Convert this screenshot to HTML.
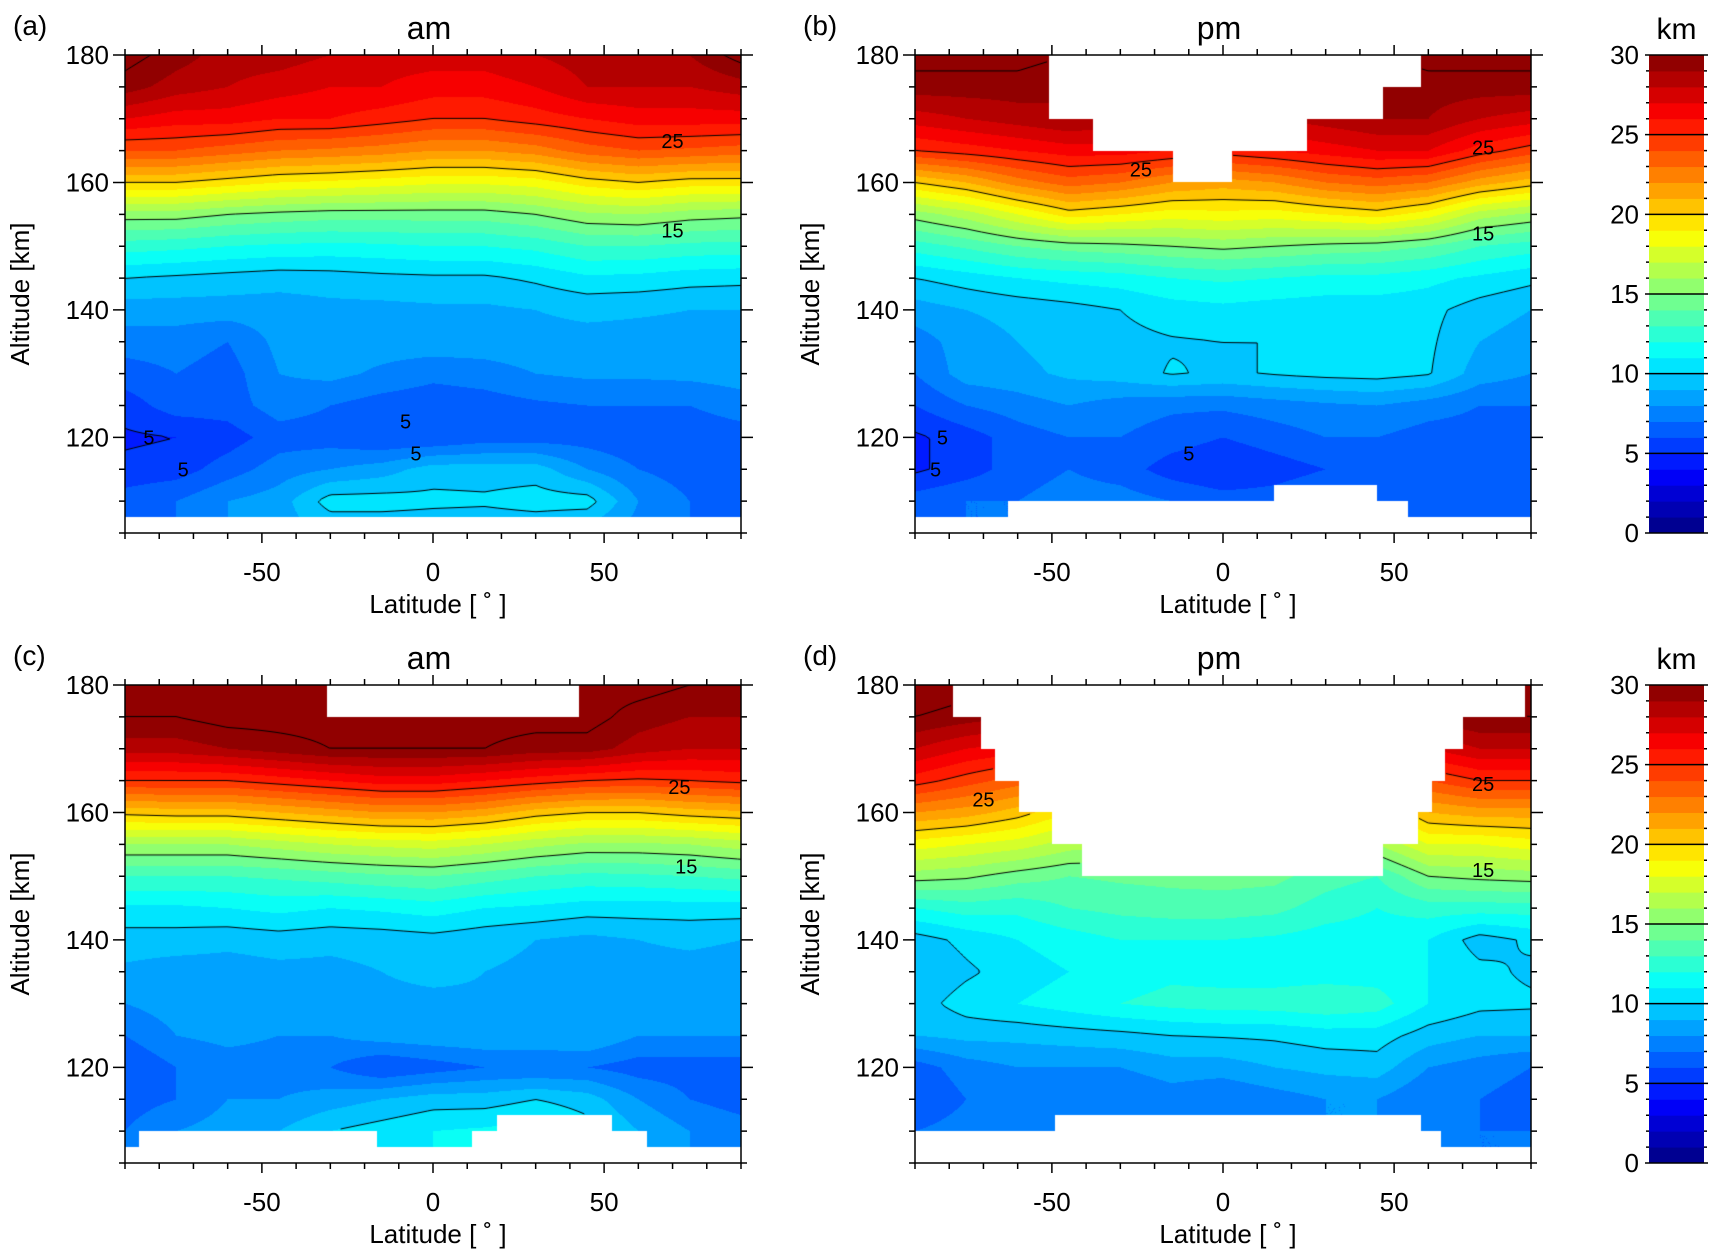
<!DOCTYPE html>
<html><head><meta charset="utf-8">
<style>
body{margin:0;background:#fff;width:1714px;height:1259px;position:relative;overflow:hidden;font-family:"Liberation Sans",Arial,sans-serif;}
canvas{position:absolute;}
svg{position:absolute;left:0;top:0;}
</style></head>
<body>
<canvas id="ca" width="616" height="478" style="left:125px;top:55px"></canvas>
<canvas id="cb" width="616" height="478" style="left:915px;top:55px"></canvas>
<canvas id="cc" width="616" height="478" style="left:125px;top:685px"></canvas>
<canvas id="cd" width="616" height="478" style="left:915px;top:685px"></canvas>
<svg id="ov" width="1714" height="1259"></svg>
<script>
const lats=[-90,-75,-60,-45,-30,-15,0,15,30,45,60,75,90];
const alts=[180,175,170,165,160,155,150,145,140,135,130,125,120,115,110,105];
const fieldA=[
[30.5,29.5,28.5,28.5,28,27.5,27.5,27.5,28,28.5,29,29,30.5],
[29.5,28.5,28,27.5,27,27,26.5,26.5,27,28,28,28,28.5],
[27,26.5,26.5,26,26,25.5,25,25,25.5,26,26.5,26.5,26.5],
[24,24,23.5,23,22.8,22.5,22,22,22.5,23.5,24,23.8,23.5],
[20,20,19.5,19,18.8,18.5,18.2,18.2,18.5,19.5,20,19.5,19.5],
[15.5,15.5,15,14.7,14.5,14.5,14.5,14.5,15,15.8,16,15.5,15.3],
[12.5,12.3,12,11.8,11.7,11.8,12,12,12.3,13,13,12.7,12.6],
[10,9.8,9.6,9.4,9.5,9.7,9.8,9.8,10.2,10.8,10.7,10.4,10.3],
[8.5,8.5,8.5,8.5,8.7,8.7,8.8,8.8,9,9.2,9.1,9.0,9.0],
[7.5,7.5,7.0,8.3,8.5,8.5,8.6,8.6,8.7,8.7,8.7,8.7,8.7],
[6.5,7,6.5,8,8.3,7.8,7.3,7.5,8,8.2,8.2,8.3,8.5],
[5.5,6.5,6.5,7.5,7,6.5,6.3,6.5,6.8,7,7,7,7.5],
[4.8,5,5.5,6.5,6.5,6,6,6.5,6.5,6.5,6.2,6.3,6.5],
[5.3,5.5,6.5,7.5,8,8.5,9.5,9.5,9.5,8,7,6.5,6.5],
[6.5,7,8,8.5,10.5,10.5,10.3,10.2,10.5,10.5,8,7,6.5],
[6.5,7,8,8.5,9,9,9,9,9,8.5,7.5,7,6.5]];
const fieldB=[
[30.5,30.5,30.5,30,29,29,29,29,29,30,30.5,30.5,30.5],
[29.5,29.5,29.5,29,28.5,28.5,28.5,28.5,28.5,29,29.5,29.5,29.5],
[27.5,28,28.5,29,28.5,28,28,28,28.5,29,29,28,27.5],
[25,25.5,26,26.5,26.5,26,25.5,26,26.5,27,27,25.5,24.5],
[20,21,22.5,23.5,23,22,21.5,22,23,23.5,23,21.5,20.5],
[15.5,16.5,18,19.5,19,18.5,18.7,18.5,19,19.5,18.5,16.5,15.8],
[12.5,13.2,14,14.5,14.7,15,15.3,15,14.7,14.5,14,13,12.5],
[10,10.5,11,11.3,11.5,12,12.2,12,11.7,11.7,11.3,10.8,10.3],
[8.5,9,9.3,9.6,10,10.5,10.7,10.5,10.4,10.4,10.3,9.5,9],
[7.5,8.5,9,9.5,9.7,9.9,10,10,10.2,10.3,10.2,9,8.5],
[7,8.5,8.7,9.2,9.5,10.1,9.8,10.1,10.3,10.4,10.1,8.5,8],
[6,7,7.5,8,7.5,7.2,7.2,7.5,7.8,8,7.5,7,7],
[4.8,5.5,6.5,7,7,6.5,6,6.5,7,7,6.5,6.5,6.5],
[4.8,5.5,6.5,7,6.5,5.5,5,5.5,6,6.5,6.5,6.5,6.5],
[6.5,7,7,7.5,7.5,7,6.5,6.5,7,7,6.5,6.5,6.5],
[7,7,7,7.5,7.5,7,7,7,7,7,7,7,7]];
const fieldC=[
[31,31,31,30.5,30.5,30.5,30.5,30.5,30.5,30.5,30.5,30,30],
[30,30,30.5,30.5,30.5,30.5,30.5,30.5,30.5,30.5,29.5,29,29],
[28.5,28.5,29,29.5,30,30,30,30,29.5,29.5,28.5,28,28],
[25,25,25,25.5,26,26.5,26.5,26,25.5,25,24.8,25,25.3],
[20.3,20.5,20.5,21,21.5,22,22,21.5,20.5,20,20,20.5,20.8],
[16,16,16,16.5,17,17.3,17.5,17,16.3,15.8,15.8,16,16.5],
[13,13,13,13.2,13.5,13.8,14,13.5,13,12.7,12.8,13,13.3],
[10.8,10.8,11,11.3,11,11.2,11.5,11,10.8,10.5,10.5,10.5,10.5],
[9.5,9.5,9.3,9.5,9.3,9.4,9.6,9.3,9,8.7,9,9.2,9],
[8.8,8.5,8.5,8.7,8.7,9,9.2,9,8.8,8.6,8.6,8.6,8.5],
[8,8.5,8.7,8.7,8.7,8.8,8.8,8.9,8.9,8.8,8.7,8.7,9],
[7,8,8.3,8,8,8.5,8.7,8.8,8.8,9,8,8,8],
[6,7,7.5,7.5,7,6,6.5,7,7,7,6.5,6.5,6.5],
[6.5,7,8,8,8.5,9,9.5,9.5,10,9.5,8,7,6.5],
[7,8,8.5,9,10,10.5,11,11.2,11.5,10.5,9,8,7.5],
[7.5,8,8.5,9,10,10.5,11,11,11,10,9,8,7.5]];
const fieldD=[
[31,30.5,30.5,30,29,28,27.5,28,29,30,30.5,30.5,31],
[30,29.5,29,28,26.5,25.5,25,25.5,26.5,28,29.5,30,30],
[28,27,26.5,25,23.5,22.5,22,22.5,23.5,25,27,28,28],
[25.5,24.5,23.5,22,20.5,19.5,19,19.5,20.5,22,24,25,25],
[22,21.5,20.5,19,17.5,17,16.8,17,17.5,18.5,21,21.5,21.5],
[18.5,18,17.5,16.5,16,15.8,15.8,15.8,15.5,16,18,18,18.5],
[15.5,15.2,14.5,14,14.2,14.3,14.4,14.3,13.5,13,15,15.3,15.5],
[12,12.5,12.3,13,13.3,13.5,13.5,13.3,12.5,12,12.5,12.5,12.5],
[9.5,10.3,11,11.5,12,12,12,11.8,11.5,11.5,11,9.5,10.2],
[9,9.8,10.5,11,11.5,11.8,11.5,11.5,11.5,11.5,11,10.3,9.8],
[9.5,10.5,11,11.5,12,12.3,12.5,12.5,12.8,12.5,11,10.3,10.2],
[9,9.3,9.3,9.5,9.7,10,10.1,10.2,10.5,10.5,9.5,9,9],
[6.5,7.5,8,8,8,8.5,8.5,9,9.3,9.5,8,7.5,7],
[6,7,7.5,7.5,7,7.5,7,7.5,8,8,7,7,6.5],
[7,7.5,8,8,8,8,7.5,8,8,8,7.5,7,7],
[7,7.5,8,8,8,8,7.5,8,8,8,7.5,7,7]];
const topStartA=[-90], topAltA=[180], botStartA=[-90], botAltA=[107.5];
const topStartB=[-90,-50.7,-38,-14.6,2.7,24.4,46.7,57.9], topAltB=[180,170,165,160,165,170,175,180];
const botStartB=[-90,-62.8,14.8,45,54], botAltB=[107.5,110,112.5,110,107.5];
const topStartC=[-90,-30.9,42.6], topAltC=[180,175,180];
const botStartC=[-90,-86,-16.5,11.3,18.6,52.2,62.4], botAltC=[107.5,110,107.5,110,112.5,110,107.5];
const topStartD=[-90,-78.8,-70.8,-66.7,-59.6,-50.1,-41.1,46.7,57,61.1,65,70.1,88.3], topAltD=[180,175,170,165,160,155,150,155,160,165,170,175,180];
const botStartD=[-90,-49.1,57.9,63.7], botAltD=[110,112.5,110,107.5];
const contourLevels=[5,10,15,20,25,30];
const cbTicks=[0,5,10,15,20,25,30];
const xTicks=[-50,0,50];
const yTicks=[120,140,160,180];
const labelsA=[["25",70,166.5],["15",70,152.5],["5",-83,120],["5",-73,115],["5",-8,122.5],["5",-5,117.5]];
const labelsB=[["25",-24,162],["25",76,165.5],["15",76,152],["5",-82,120],["5",-84,115],["5",-10,117.5]];
const labelsC=[["25",72,164],["15",74,151.5]];
const labelsD=[["25",-70,162],["25",76,164.5],["15",76,151]];

const W=616,H=478,LAT0=-90,LAT1=90,ALT0=105,ALT1=180;
function jet(k){const t=(k+0.5)/30;const c=v=>Math.round(255*Math.max(0,Math.min(1,v)));
 return [c(1.5-Math.abs(4*t-3)),c(1.5-Math.abs(4*t-2)),c(1.5-Math.abs(4*t-1))];}
function seg(st,al,lat){let a=al[0];for(let i=0;i<st.length;i++)if(lat>=st[i])a=al[i];return a;}
function val(F,lat,alt){
 let fi=(lat-lats[0])/15; fi=Math.max(0,Math.min(lats.length-1.0001,fi));
 let fj=(alts[0]-alt)/5; fj=Math.max(0,Math.min(alts.length-1.0001,fj));
 const i=Math.floor(fi),j=Math.floor(fj),u=fi-i,v=fj-j;
 return F[j][i]*(1-u)*(1-v)+F[j][i+1]*u*(1-v)+F[j+1][i]*(1-u)*v+F[j+1][i+1]*u*v;}
const xs=lat=>(lat-LAT0)/(LAT1-LAT0)*W, ys=alt=>(ALT1-alt)/(ALT1-ALT0)*H;
const panels=[
 {c:'ca',x:125,y:55,F:fieldA,ts:topStartA,ta:topAltA,bs:botStartA,ba:botAltA,t:'am',tag:'(a)',L:labelsA,n:'a'},
 {c:'cb',x:915,y:55,F:fieldB,ts:topStartB,ta:topAltB,bs:botStartB,ba:botAltB,t:'pm',tag:'(b)',L:labelsB,n:'b'},
 {c:'cc',x:125,y:685,F:fieldC,ts:topStartC,ta:topAltC,bs:botStartC,ba:botAltC,t:'am',tag:'(c)',L:labelsC,n:'c'},
 {c:'cd',x:915,y:685,F:fieldD,ts:topStartD,ta:topAltD,bs:botStartD,ba:botAltD,t:'pm',tag:'(d)',L:labelsD,n:'d'}];
const pal=[];for(let k=0;k<30;k++)pal.push(jet(k));
function field(p,lat,alt){if(alt>seg(p.ts,p.ta,lat)||alt<seg(p.bs,p.ba,lat))return NaN;return val(p.F,lat,alt);}
panels.forEach(p=>{
 const cv=document.getElementById(p.c),ctx=cv.getContext('2d');
 const img=ctx.createImageData(W,H),d=img.data;
 for(let py=0;py<H;py++){const alt=ALT1-(py+0.5)/H*(ALT1-ALT0);
  for(let px=0;px<W;px++){const lat=LAT0+(px+0.5)/W*180;const v=field(p,lat,alt);const o=(py*W+px)*4;
   if(isNaN(v)){d[o]=d[o+1]=d[o+2]=255;}else{const k=Math.max(0,Math.min(29,Math.floor(v)));const c=pal[k];d[o]=c[0];d[o+1]=c[1];d[o+2]=c[2];}
   d[o+3]=255;}}
 ctx.putImageData(img,0,0);
 const s=3,nx=Math.ceil(W/s)+1,ny=Math.ceil(H/s)+1,G=[];
 for(let j=0;j<ny;j++){const r=[];for(let i=0;i<nx;i++){r.push(field(p,LAT0+Math.min(W,i*s)/W*180,ALT1-Math.min(H,j*s)/H*75));}G.push(r);}
 ctx.strokeStyle='#000';ctx.lineWidth=1;ctx.beginPath();
 contourLevels.forEach(L=>{
  for(let j=0;j<ny-1;j++)for(let i=0;i<nx-1;i++){
   const a=G[j][i],b=G[j][i+1],c=G[j+1][i+1],e=G[j+1][i];
   if(isNaN(a)||isNaN(b)||isNaN(c)||isNaN(e))continue;
   const x0=i*s,y0=j*s,pts=[];
   const ed=(v1,v2,X1,Y1,X2,Y2)=>{if((v1<L)!==(v2<L)){const t=(L-v1)/(v2-v1);pts.push([X1+(X2-X1)*t,Y1+(Y2-Y1)*t]);}};
   ed(a,b,x0,y0,x0+s,y0);ed(b,c,x0+s,y0,x0+s,y0+s);ed(c,e,x0+s,y0+s,x0,y0+s);ed(e,a,x0,y0+s,x0,y0);
   for(let q=0;q+1<pts.length;q+=2){ctx.moveTo(pts[q][0],pts[q][1]);ctx.lineTo(pts[q+1][0],pts[q+1][1]);}
  }});
 ctx.stroke();
});
const NS='http://www.w3.org/2000/svg',ov=document.getElementById('ov');
function mk(tag,at,par){const e=document.createElementNS(NS,tag);for(const k in at)e.setAttribute(k,at[k]);(par||ov).appendChild(e);return e;}
function txt(s,at,par){const e=mk('text',at,par);e.textContent=s;return e;}
panels.forEach(p=>{
 const g=mk('g',{transform:`translate(${p.x},${p.y})`});
 
 
 p.L.forEach(l=>{const t=txt(l[0],{x:xs(l[1]),y:ys(l[2])+7,'font-size':20,'text-anchor':'middle',fill:'#000'},g);
  
  });
 const fr=mk('rect',{x:0,y:0,width:W,height:H,fill:'none',stroke:'#000','stroke-width':1.5},g);
 
 
 let tk='';
 for(let lat=-90;lat<=90;lat+=10){const X=xs(lat),m=(lat%50===0);const l=m?10:6;
  tk+=`M${X},${H}v${l}M${X},0v${-l}`;}
 for(let a=105;a<=180;a+=5){const Y=ys(a),m=(a%20===0);const l=m?12:6;tk+=`M0,${Y}h${-l}M${W},${Y}h${l}`;}
 const tp=mk('path',{d:tk,stroke:'#000','stroke-width':1.5,fill:'none'},g);
 
 
 xTicks.forEach(v=>{const t=txt(String(v),{x:xs(v),y:H+48,'font-size':26,'text-anchor':'middle'},g);
  
  });
 yTicks.forEach(v=>{const t=txt(String(v),{x:-16,y:ys(v)+9,'font-size':26,'text-anchor':'end'},g);
  
  });
 const xt=txt('Latitude [ ˚ ]',{x:W/2+5,y:H+80,'font-size':26,'text-anchor':'middle'},g);
 
 
 const yt=txt('Altitude [km]',{x:0,y:0,'font-size':26,'text-anchor':'middle',transform:`translate(-96,${H/2}) rotate(-90)`},g);
 
 
 const tt=txt(p.t,{x:W/2-4,y:-16,'font-size':32,'text-anchor':'middle'},g);
 
 
 const tg=txt(p.tag,{x:-112,y:-20,'font-size':28},g);
 
 
});
[55,685].forEach((y0,ci)=>{
 const g=mk('g',{transform:`translate(1649,${y0})`});
 
 
 const cw=55,ch=478,sh=ch/30;
 for(let k=0;k<30;k++){const r=mk('rect',{x:0,y:ch-(k+1)*sh,width:cw,height:sh+0.5,fill:`rgb(${pal[k].join(',')})`},g);
  
  }
 let d='';for(let k=0;k<=30;k++){const Y=ch-k*sh;if(k%5===0)d+=`M-4,${Y}h${cw+8}`;else d+=`M-3,${Y}h3M${cw},${Y}h3`;}
 const tp=mk('path',{d:d,stroke:'#000','stroke-width':1.5,fill:'none'},g);
 
 
 cbTicks.forEach(v=>{const t=txt(String(v),{x:-10,y:ch-v*sh+9,'font-size':26,'text-anchor':'end'},g);
  
  });
 const u=txt('km',{x:cw/2,y:-16,'font-size':30,'text-anchor':'middle'},g);
 
 
});
</script>
</body></html>
